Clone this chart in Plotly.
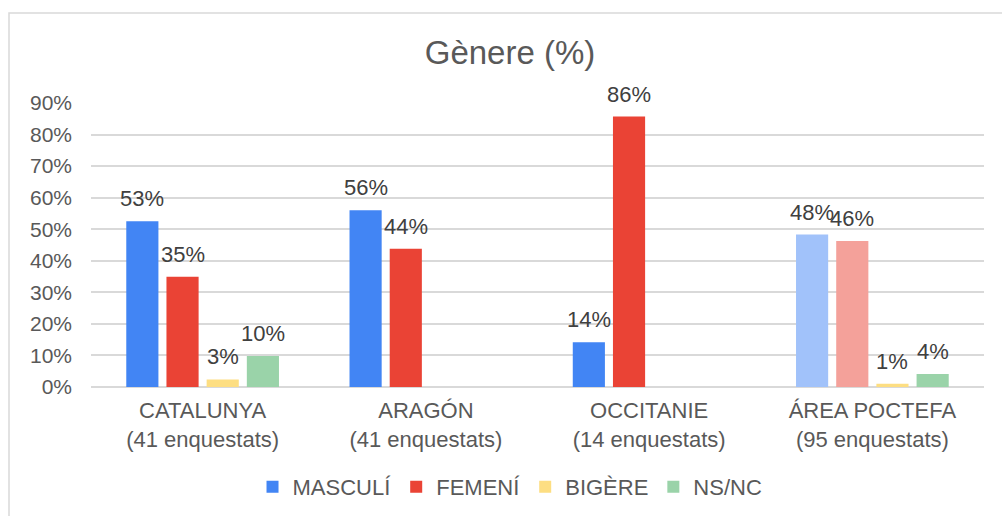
import plotly.graph_objects as go

categories = ["CATALUNYA<br>(41 enquestats)", "ARAGÓN<br>(41 enquestats)",
              "OCCITANIE<br>(14 enquestats)", "ÁREA POCTEFA<br>(95 enquestats)"]
series_names = ["MASCULÍ", "FEMENÍ", "BIGÈRE", "NS/NC"]
masculi = [52.5, 56.0, 14.2, 48.3]
femeni = [34.9, 43.8, 85.7, 46.3]
bigere = [2.4, None, None, 1.0]
nsnc = [9.8, None, None, 4.1]
labels_masculi = ["53%", "56%", "14%", "48%"]
labels_femeni = ["35%", "44%", "86%", "46%"]
labels_bigere = ["3%", None, None, "1%"]
labels_nsnc = ["10%", None, None, "4%"]
y_ticks = [0, 10, 20, 30, 40, 50, 60, 70, 80, 90]
y_tick_labels = [f"{v}%" for v in y_ticks]

values = [masculi, femeni, bigere, nsnc]
labels = [labels_masculi, labels_femeni, labels_bigere, labels_nsnc]

# styles
base_colors = ["#4285F4", "#EA4335", "#FDDE82", "#9AD3A9"]
last_colors = ["#A1C2FA", "#F4A19A", "#FDDE82", "#9AD3A9"]
TEXT = "#595959"
LABEL = "#404040"
FONT = "Liberation Sans, Arial, sans-serif"
BARGAP = 0.28
L, R, T, B = 91, 18, 103, 129
W, H = 1002, 516

fig = go.Figure()
for j, (name, vals) in enumerate(zip(series_names, values)):
    cols = [base_colors[j]] * (len(categories) - 1) + [last_colors[j]]
    fig.add_trace(go.Bar(
        name=name, x=categories, y=vals,
        marker=dict(color=cols, line=dict(width=0)),
        showlegend=True,
    ))

# data labels as annotations placed at the grouped bar positions
n = len(series_names)
slot = (1 - BARGAP) / n
annotations = []
for j in range(n):
    for i, (v, lab) in enumerate(zip(values[j], labels[j])):
        if v is None or lab is None:
            continue
        annotations.append(dict(
            x=i + (j - (n - 1) / 2) * slot, y=v, xref="x", yref="y",
            text=lab, showarrow=False, yanchor="bottom", yshift=8,
            font=dict(family=FONT, size=22, color=LABEL),
        ))

ph = H - T - B
pw = W - L - R
shapes = [dict(
    type="rect", xref="paper", yref="paper", layer="below",
    x0=(9 - L) / pw, x1=(1010 - L) / pw,
    y0=-(H + 20 - (T + ph)) / ph, y1=(T + ph - 13) / ph,
    line=dict(color="#d9d9d9", width=1.5), fillcolor="rgba(0,0,0,0)",
)]

fig.update_layout(
    width=W, height=H,
    margin=dict(l=L, r=R, t=T, b=B),
    paper_bgcolor="white", plot_bgcolor="white",
    barmode="group", bargap=BARGAP, bargroupgap=0.2,
    font=dict(family=FONT, size=21, color=TEXT),
    title=dict(text="Gènere (%)", x=0.509, xref="container", xanchor="center",
               y=1 - 52 / H, yref="container", yanchor="middle",
               font=dict(family=FONT, size=33, color=TEXT)),
    legend=dict(orientation="h", xref="container", yref="container",
                x=0.509, xanchor="center", y=1 - 487 / H, yanchor="middle",
                font=dict(family=FONT, size=22, color=TEXT),
                itemwidth=30, tracegroupgap=0, traceorder="normal"),
    annotations=annotations,
    shapes=shapes,
    hovermode=False,
)
fig.update_yaxes(range=[0, 90], tickvals=y_ticks, ticktext=y_tick_labels,
                 showgrid=True, gridcolor="#d9d9d9", gridwidth=1.5,
                 zeroline=True, zerolinecolor="#d9d9d9", zerolinewidth=1.5,
                 showline=False, ticks="", ticklabelstandoff=18,
                 tickfont=dict(family=FONT, size=21, color=TEXT))
fig.update_xaxes(showline=False, ticks="", ticklabelstandoff=8,
                 tickfont=dict(family=FONT, size=22, color=TEXT))

fig.write_html("out.html", config={"displayModeBar": False},
               post_script="document.body.style.margin='0';document.body.style.overflow='hidden';")
